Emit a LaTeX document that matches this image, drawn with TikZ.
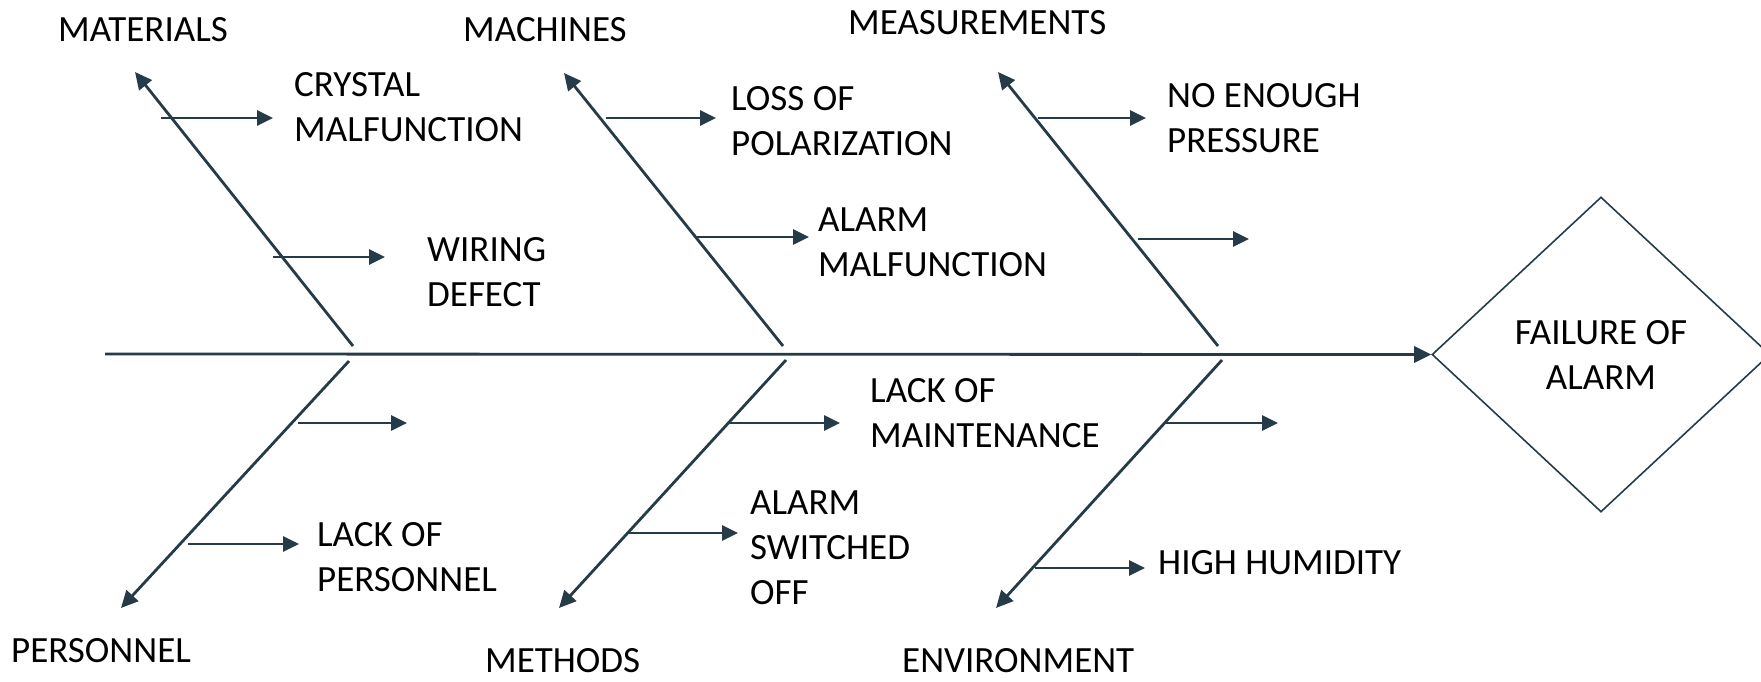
\documentclass[tikz,border=0pt]{standalone}
\usepackage{fontspec}
\setmainfont{Carlito}
\usetikzlibrary{arrows.meta,shapes.geometric}
\definecolor{bonecol}{HTML}{253C48}

\begin{document}
\begin{tikzpicture}[x=1pt, y=-1pt,
  bone/.style={draw=bonecol, line width=2.8pt, -{Triangle[length=17pt,width=16pt]}},
  twig/.style={draw=bonecol, line width=2.8pt, -{Triangle[length=16pt,width=15pt]}},
  cause/.style={anchor=west, inner sep=0pt, align=left, font=\fontsize{37}{45}\selectfont}]
  \useasboundingbox (0,0) rectangle (1761,681);

  % head and spine
  \node[draw=bonecol, line width=1.6pt, diamond, minimum width=338pt, minimum height=315pt,
        inner sep=0pt, align=center, font=\fontsize{37}{45}\selectfont] (effect) at (1601,354.5) {FAILURE OF\\ALARM};
  \coordinate (tail) at (105,354);
  \draw[bone] (tail) -- (effect.west);

  % upper bones
  \coordinate (matB) at (353,346);  \coordinate (matT) at (135,72);
  \coordinate (macB) at (783,346);  \coordinate (macT) at (564,73);
  \coordinate (meaB) at (1218,346); \coordinate (meaT) at (998,72);
  \draw[bone] (matB) -- (matT);
  \draw[bone] (macB) -- (macT);
  \draw[bone] (meaB) -- (meaT);

  % lower bones
  \coordinate (perT) at (349,361);  \coordinate (perB) at (121,608);
  \coordinate (metT) at (786,360);  \coordinate (metB) at (559,608);
  \coordinate (envT) at (1222,360); \coordinate (envB) at (996,608);
  \draw[bone] (perT) -- (perB);
  \draw[bone] (metT) -- (metB);
  \draw[bone] (envT) -- (envB);

  % twigs
  \foreach \name/\xa/\xb/\y in {ma1/161/273/118, ma2/273/385/257,
      mc1/606/716/118, mc2/696/809/237,
      me1/1038/1146/118, me2/1138/1249/239,
      pe1/298/407/423, pe2/188/299/544,
      mt1/730/840/423, mt2/629/738/533,
      en1/1165/1278/423, en2/1035/1145/568} {
    \coordinate (\name s) at (\xa,\y);
    \coordinate (\name e) at (\xb,\y);
    \draw[twig] (\name s) -- (\name e);
  }

  % categories
  \node[cause] (materials) at (58,30) {MATERIALS};
  \node[cause] (machines) at (463,30) {MACHINES};
  \node[cause] (measurements) at (848,23) {MEASUREMENTS};
  \node[cause] (personnel) at (11,651) {PERSONNEL};
  \node[cause] (methods) at (485,661) {METHODS};
  \node[cause] (environment) at (902,661) {ENVIRONMENT};

  % causes
  \node[cause] (crystal) at (294,107.5) {CRYSTAL\\MALFUNCTION};
  \node[cause] (wiring) at (427,272.5) {WIRING\\DEFECT};
  \node[cause] (polar) at (731,121.5) {LOSS OF\\POLARIZATION};
  \node[cause] (alarmfail) at (818,242.5) {ALARM\\MALFUNCTION};
  \node[cause] (pressure) at (1167,118) {NO ENOUGH\\PRESSURE};
  \node[cause] (maint) at (870,413.5) {LACK OF\\MAINTENANCE};
  \node[cause] (switched) at (750,547.5) {ALARM\\SWITCHED\\OFF};
  \node[cause] (staff) at (317,557) {LACK OF\\PERSONNEL};
  \node[cause] (humidity) at (1158,563) {HIGH HUMIDITY};
\end{tikzpicture}
\end{document}
